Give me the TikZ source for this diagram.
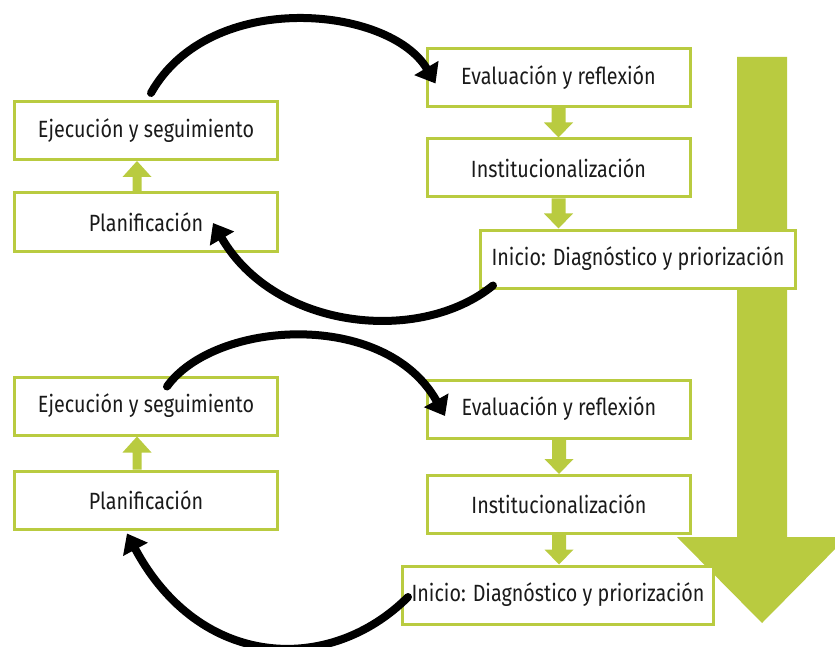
\documentclass[tikz,border=0pt]{standalone}
\usepackage{fontspec}
\setmainfont{Fira Sans}[FakeStretch=0.84]
\usetikzlibrary{positioning,calc,arrows.meta}
\definecolor{leaf}{RGB}{185,203,64}
\definecolor{ink}{RGB}{26,26,26}

% green block arrows between stacked boxes
\newcommand{\stepdown}[2]{%
  \fill[leaf] ($(#1.south)+(-7pt,0)$) -- ($(#1.south |- #2.north)+(-7pt,15pt)$)
    -- ($(#1.south |- #2.north)+(-14.5pt,15pt)$) -- (#1.south |- #2.north)
    -- ($(#1.south |- #2.north)+(14.5pt,15pt)$) -- ($(#1.south |- #2.north)+(7pt,15pt)$)
    -- ($(#1.south)+(7pt,0)$) -- cycle;}
\newcommand{\stepup}[2]{%
  \fill[leaf] ($(#1.north)+(-13.5pt,0)$) -- ($(#2.south)+(-13.5pt,-16pt)$)
    -- ($(#2.south)+(-23.5pt,-16pt)$) -- ($(#2.south)+(-9pt,0)$)
    -- ($(#2.south)+(5.5pt,-16pt)$) -- ($(#2.south)+(-4.5pt,-16pt)$)
    -- ($(#1.north)+(-4.5pt,0)$) -- cycle;}

\begin{document}
\begin{tikzpicture}[x=1pt,y=-1pt,
    stage/.style={draw=leaf, line width=3pt, fill=white, text=ink,
      minimum width=263pt, minimum height=58pt, inner sep=0pt,
      font=\fontsize{23.5}{27}\selectfont},
    loop/.style={line width=8pt, line cap=round, -{Triangle[length=18pt,width=27pt]}}]
  \useasboundingbox (0,0) rectangle (835,647);

  % big progress arrow
  \fill[leaf] (737,57) -- (787,57) -- (787,537) -- (847,537) -- (762,623)
    -- (677,537) -- (737,537) -- cycle;

  % first cycle
  \node[stage] (exec1) at (146,130.5) {Ejecución y seguimiento};
  \node[stage] (plan1) at (146,222) {Planificación};
  \node[stage] (eval1) at (558.5,77.5) {Evaluación y reflexión};
  \node[stage] (inst1) at (558.5,168) {Institucionalización};
  \node[stage, minimum width=315pt] (init1) at (638,259) {Inicio: Diagnóstico y priorización};

  % second cycle
  \node[stage] (exec2) at (146,406) {Ejecución y seguimiento};
  \node[stage] (plan2) at (146,500) {Planificación};
  \node[stage] (eval2) at (559,409) {Evaluación y reflexión};
  \node[stage] (inst2) at (559,504.5) {Institucionalización};
  \node[stage, minimum width=311pt] (init2) at (558,595) {Inicio: Diagnóstico y priorización};

  \stepup{plan1}{exec1}
  \stepdown{eval1}{inst1}
  \stepdown{inst1}{init1}
  \stepup{plan2}{exec2}
  \stepdown{eval2}{inst2}
  \stepdown{inst2}{init2}

  % cycle arrows
  \draw[loop] ([xshift=5pt,yshift=7pt]exec1.north) .. controls (210,-12) and (390,6) .. ([xshift=10pt,yshift=-6pt]eval1.west);
  \draw[loop] ([xshift=14pt,yshift=4pt]init1.south west) .. controls (420,345) and (275,330) .. ([xshift=-66pt,yshift=-1pt]plan1.east);
  \draw[loop] ([xshift=21pt,yshift=-11pt]exec2.north) .. controls (215,320) and (385,309) .. ([xshift=19pt,yshift=-7pt]eval2.west);
  \draw[loop] ([xshift=7pt,yshift=-2pt]init2.west) .. controls (330,675) and (200,670) .. ([xshift=-19pt,yshift=-3pt]plan2.south);
\end{tikzpicture}
\end{document}
